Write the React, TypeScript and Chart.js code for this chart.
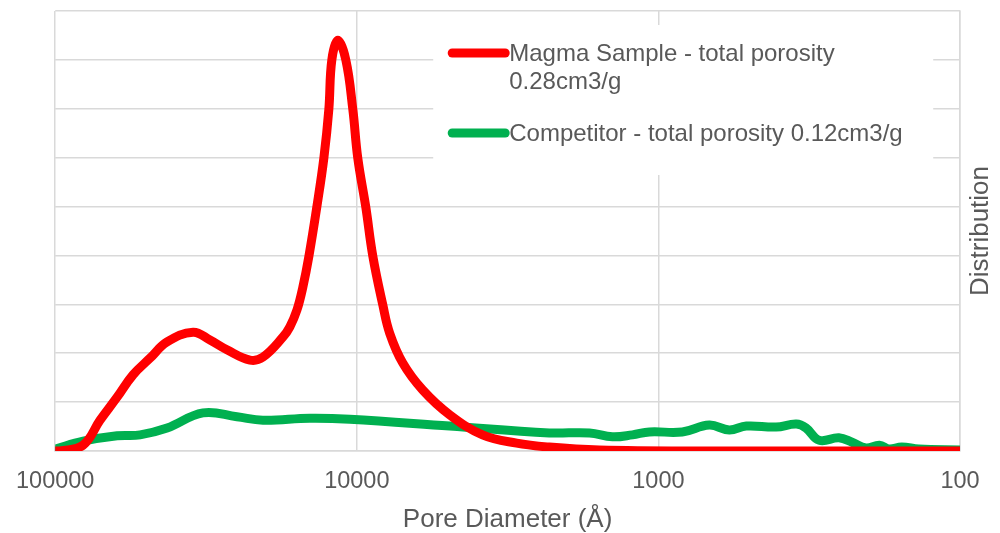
import React, { useEffect, useRef } from "react";
import { Chart, registerables } from "chart.js";

Chart.register(...registerables);

// Pore diameter (Å) and distribution values
const magmaDiameter = [100000, 96250, 80800, 71000, 62350, 55170, 48460, 42570, 34910, 30680, 26950, 22610, 20480, 17580, 16670, 15800, 15100, 14410, 13570, 12860, 12380, 12100, 11560, 10875, 10310, 9925, 9337, 8851, 8201, 7780, 7040, 6050, 4920, 3830, 2950, 2300, 1570, 731, 100];
const magmaValue = [0, 0, 0.12, 0.63, 1.1, 1.56, 1.9, 2.23, 2.43, 2.27, 2.07, 1.86, 1.92, 2.33, 2.54, 2.88, 3.35, 3.99, 4.99, 5.99, 6.99, 8.0, 8.4, 8.0, 6.99, 5.99, 4.99, 3.99, 2.99, 2.41, 1.8, 1.25, 0.74, 0.33, 0.16, 0.08, 0.02, 0, 0];

const competitorDiameter = [100000, 80800, 62350, 52300, 42570, 32360, 24970, 20480, 14310, 10550, 4920, 2300, 1692, 1420, 1219, 1071, 833, 678, 582, 511, 407, 349, 324, 293, 252, 228, 205, 185, 172, 156, 137, 100];
const competitorValue = [0.04, 0.2, 0.31, 0.33, 0.47, 0.78, 0.7, 0.63, 0.67, 0.65, 0.51, 0.37, 0.37, 0.29, 0.33, 0.39, 0.39, 0.53, 0.43, 0.51, 0.49, 0.55, 0.47, 0.22, 0.27, 0.18, 0.06, 0.12, 0.04, 0.08, 0.04, 0.02];

const xTickValues = [100000, 10000, 1000, 100];
const seriesNames = ["Magma Sample - total porosity 0.28cm3/g", "Competitor - total porosity 0.12cm3/g"];
const legendLines = [["Magma Sample - total porosity", "0.28cm3/g"], ["Competitor - total porosity 0.12cm3/g"]];
const seriesColors = ["#FF0000", "#00B050"];
const xTitle = "Pore Diameter (Å)";
const yTitle = "Distribution";

const FONT = '"Liberation Sans", Arial, sans-serif';
const TEXT = "#595959";
const GRID = "#D9D9D9";

const overlayPlugin = {
  id: "overlay",
  afterDraw(chart: any) {
    const { ctx, chartArea } = chart;
    ctx.save();
    // legend box
    const bx = chartArea.left + 378;
    const by = chartArea.top + 14;
    ctx.fillStyle = "#ffffff";
    ctx.fillRect(bx, by, 500, 150);
    ctx.font = `24px ${FONT}`;
    ctx.fillStyle = TEXT;
    ctx.textAlign = "left";
    ctx.textBaseline = "alphabetic";
    const entryY = [by + 28, by + 108];
    legendLines.forEach((lines, i) => {
      const y = entryY[i];
      ctx.strokeStyle = seriesColors[i];
      ctx.lineWidth = 9;
      ctx.lineCap = "round";
      ctx.beginPath();
      ctx.moveTo(bx + 19, y);
      ctx.lineTo(bx + 72, y);
      ctx.stroke();
      lines.forEach((t, j) => {
        ctx.fillText(t, bx + 76, y + 8 + j * 28);
      });
    });
    // y-axis title, reading bottom to top
    ctx.translate(chartArea.right + 21, (chartArea.top + chartArea.bottom) / 2);
    ctx.rotate(-Math.PI / 2);
    ctx.textAlign = "center";
    ctx.textBaseline = "middle";
    ctx.font = `26px ${FONT}`;
    ctx.fillText(yTitle, 0, 0);
    ctx.restore();
  },
};

export default function App() {
  const ref = useRef<HTMLCanvasElement | null>(null);
  useEffect(() => {
    document.body.style.margin = "0";
    if (!ref.current) return;
    const chart = new Chart(ref.current, {
      type: "line",
      data: {
        datasets: [
          {
            label: seriesNames[0],
            data: magmaDiameter.map((d, i) => ({ x: d, y: magmaValue[i] })),
            borderColor: seriesColors[0],
            backgroundColor: seriesColors[0],
            borderWidth: 9,
            pointRadius: 0,
            tension: 0.4,
            borderCapStyle: "round",
            borderJoinStyle: "round",
          },
          {
            label: seriesNames[1],
            data: competitorDiameter.map((d, i) => ({ x: d, y: competitorValue[i] })),
            borderColor: seriesColors[1],
            backgroundColor: seriesColors[1],
            borderWidth: 9,
            pointRadius: 0,
            tension: 0.4,
            borderCapStyle: "round",
            borderJoinStyle: "round",
          },
        ],
      },
      options: {
        animation: false,
        responsive: true,
        maintainAspectRatio: false,
        layout: { padding: { left: 54, top: 11, right: 40, bottom: 0 } },
        plugins: { legend: { display: false }, tooltip: { enabled: false } },
        scales: {
          x: {
            type: "logarithmic",
            reverse: true,
            min: 100,
            max: 100000,
            afterBuildTicks: (scale: any) => {
              scale.ticks = xTickValues.map((v) => ({ value: v }));
            },
            afterFit: (scale: any) => {
              scale.height = 82;
            },
            ticks: {
              autoSkip: false,
              maxRotation: 0,
              padding: 16,
              color: TEXT,
              font: { family: FONT, size: 23.5 },
              callback: (v: any) => String(v),
            },
            grid: { color: GRID, lineWidth: 1.5, drawTicks: false },
            border: { display: true, color: GRID, width: 1.5 },
            title: {
              display: true,
              text: xTitle,
              color: TEXT,
              font: { family: FONT, size: 26 },
              padding: { top: 0, bottom: -2 },
            },
          },
          y: {
            position: "right",
            min: 0,
            max: 9,
            ticks: { display: false, stepSize: 1 },
            grid: { color: GRID, lineWidth: 1.5, drawTicks: false },
            border: { display: true, color: GRID, width: 1.5 },
          },
        },
      },
      plugins: [overlayPlugin],
    });
    return () => chart.destroy();
  }, []);
  return (
    <div style={{ width: 1000, height: 533, position: "relative" }}>
      <canvas ref={ref} />
    </div>
  );
}
